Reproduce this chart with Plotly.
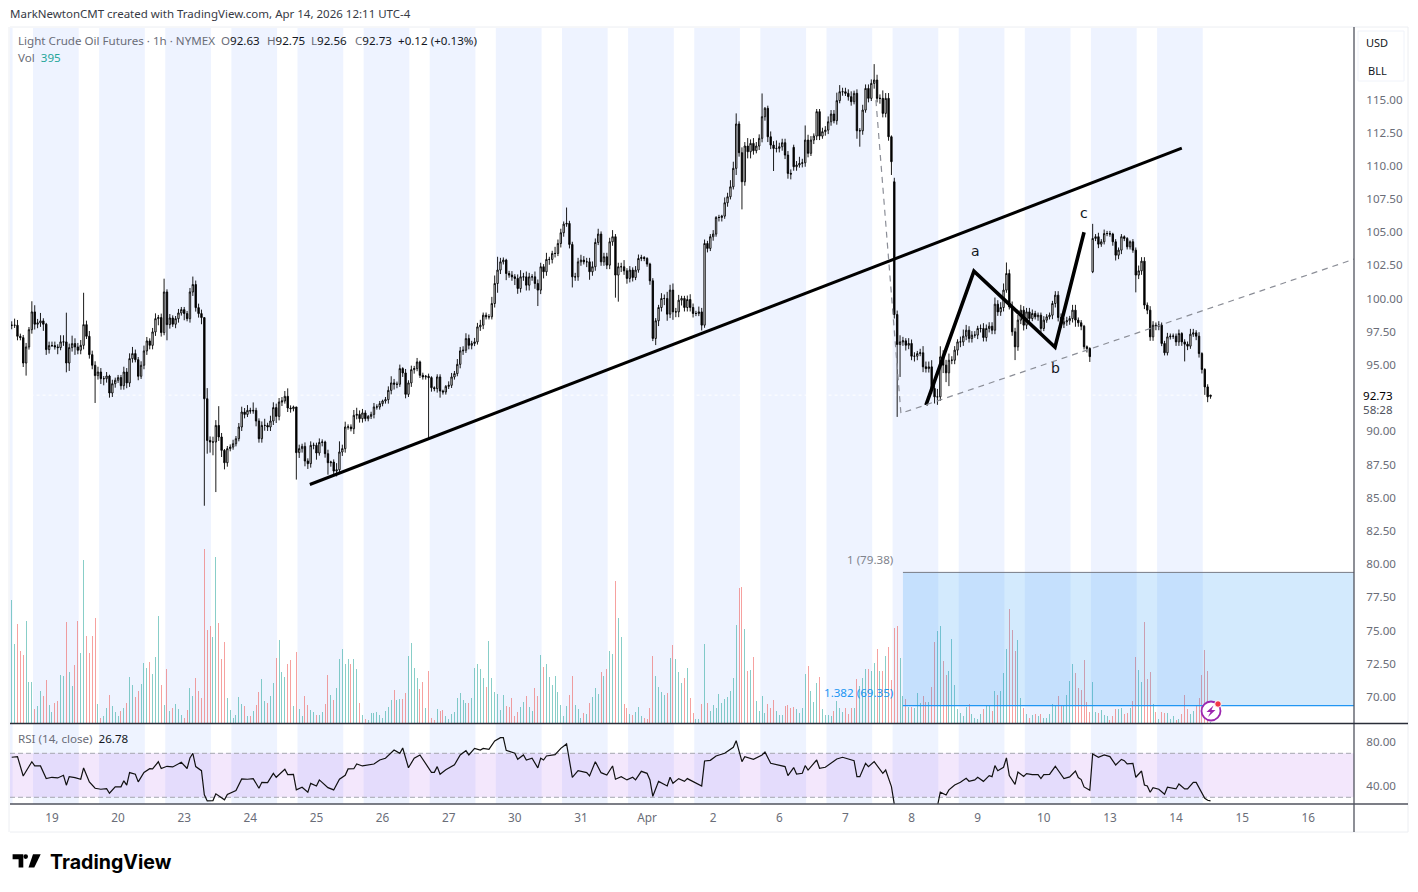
import plotly.graph_objects as go

# ---------- data ----------
session_labels = ["19","20","23","24","25","26","27","30","31","Apr","2","6","7","8","9","10","13","14","15","16"]
session_bars = [14,37,60,83,106,129,152,175,198,221,244,267,290,313,336,359,382,405,428,451]
price_ticks = [70,72.5,75,77.5,80,82.5,85,87.5,90,95,97.5,100,102.5,105,107.5,110,112.5,115]
rsi_ticks = [40,80]

closes = [
97.99,97.99,97.16,97.06,95.15,96.36,97.66,99.0,98.07,98.17,
98.32,98.07,96.16,96.46,96.46,96.36,96.31,96.74,96.74,95.15,
96.31,96.61,96.36,96.11,96.48,98.04,97.16,95.78,94.98,94.2,
94.47,93.97,93.97,94.17,92.89,93.59,93.85,94.05,93.44,94.47,
93.65,95.48,95.86,95.4,94.15,94.98,96.06,96.81,96.48,97.49,
98.49,98.57,97.44,100.5,98.04,98.54,98.07,98.49,98.92,99.17,
98.87,98.49,100.5,101.06,99.32,98.87,98.57,92.46,89.32,89.2,
89.2,90.45,89.58,88.57,87.64,88.7,88.82,89.07,89.45,90.33,
91.46,91.28,91.58,91.53,91.58,90.78,89.45,90.45,90.45,90.33,
90.78,91.79,91.13,92.21,92.29,92.64,91.76,91.71,91.84,88.4,
88.7,88.87,87.77,87.57,88.95,88.95,88.37,89.17,89.2,88.32,
87.64,87.69,87.01,87.11,88.45,88.7,90.33,90.33,90.2,91.21,
91.28,90.96,91.39,90.96,91.13,91.28,91.84,91.84,92.09,92.29,
92.39,93.09,93.65,93.55,93.55,94.73,94.4,92.79,93.65,94.65,
94.73,95.23,94.22,94.1,94.15,94.05,93.29,93.22,94.1,93.04,
92.97,93.39,93.47,94.1,94.35,95.05,96.06,96.11,96.99,96.48,
96.62,96.74,97.87,98.0,98.75,98.63,98.63,99.63,101.14,102.15,
102.77,102.9,101.89,101.77,101.64,101.52,100.76,101.64,101.64,101.01,
101.64,101.64,101.14,100.64,102.4,102.02,102.95,102.95,103.4,103.4,
104.15,104.96,105.61,105.66,104.08,101.64,101.64,102.77,102.9,102.77,
102.77,102.02,102.4,104.23,104.86,102.77,103.15,102.52,104.28,104.66,
101.77,102.4,102.4,102.09,101.52,102.15,101.59,102.15,103.02,103.1,
103.02,102.6,101.34,97.0,98.33,99.33,100.01,100.01,98.83,100.64,
99.0,99.0,99.88,100.01,99.33,99.93,99.33,98.88,98.88,99.0,
98.0,104.15,103.78,104.66,104.86,106.11,106.11,106.21,107.22,107.67,
108.42,109.81,113.15,110.99,108.8,111.49,111.06,111.69,111.14,111.49,
112.07,113.7,114.33,112.19,111.56,111.31,111.31,111.44,111.74,110.81,
109.43,109.38,109.93,110.06,110.18,110.23,111.94,110.94,111.94,112.24,
114.08,112.24,112.57,112.69,113.32,113.9,113.4,114.91,115.58,115.58,
115.46,115.21,114.83,115.46,112.64,112.64,114.2,115.83,115.08,116.21,
116.46,115.08,115.08,113.95,115.08,112.19,110.31,98.8,96.54,96.74,
96.82,96.49,96.62,95.66,95.66,95.86,95.92,94.86,94.73,94.86,
93.23,92.6,92.6,95.61,94.99,94.41,95.36,95.36,96.12,96.74,
96.74,97.17,97.62,96.99,97.25,97.25,97.75,97.75,97.07,97.75,
97.92,97.62,99.58,99.0,99.33,100.64,101.89,99.38,97.5,96.37,
98.38,99.13,98.0,99.0,98.5,98.88,98.63,98.75,97.75,98.38,
98.63,98.75,99.63,100.26,98.58,98.08,98.25,98.33,98.5,99.13,
98.38,98.18,97.92,96.37,96.24,95.63,104.53,104.66,104.1,104.28,
104.9,104.9,104.86,104.28,103.27,103.65,104.66,104.53,103.9,104.28,
103.65,101.77,102.09,102.82,99.51,99.13,97.12,98.0,97.92,98.0,
96.62,95.92,97.12,97.17,97.17,96.74,97.37,96.74,96.57,96.42,
97.32,97.42,97.17,95.86,94.66,93.35,92.6,92.73]

# opens that differ from the previous close (session gaps)
gap_bars = [272,307,376,417]
gap_opens = [111.39,108.8,102.02,92.63]

upper_wicks = [
.3,.5,.4,.2,.2,.3,.2,.8,.5,.3, .6,.2,.1,.3,.3,.3,.2,.5,.5,2.2,
.3,.6,.4,.3,.4,2.4,.3,.4,.3,.3, .4,.3,.2,.3,.1,.3,.2,.2,.2,.4,
.3,.4,.5,.3,.2,.3,.4,.3,.2,.3, .4,.2,.3,1.0,.2,.3,.2,.2,.3,.2,
.2,.2,.3,.6,.3,.3,.3,.0,.8,.3, .4,.4,1.45,.3,.1,.2,.2,.3,.2,.3,
.4,.3,.4,.2,.6,.2,.2,.3,.5,.2, .4,.4,.3,.3,.3,.4,.6,.2,.1,.0,
.3,.2,.3,.2,.3,.2,.2,.3,.2,.1, .3,.1,.2,.5,.8,.3,.4,.2,.2,.4,
.5,.3,.3,.2,.1,.2,.3,.2,.2,.1, .2,.3,.5,.3,.2,.3,.1,.3,.2,.3,
.2,.3,.1,.2,.1,.2,.1,.1,.2,.2, .1,.1,.3,.3,.2,.4,.3,.3,.4,.3,
.2,.3,.3,.4,.2,.2,.2,.5,.6,1.0, .3,.2,.1,.2,.3,.2,.3,.5,.3,.4,
.3,.2,.4,.3,.3,.2,.5,.2,.2,.5, .3,.3,.2,1.2,.2,.2,.3,.3,.4,.3,
.3,.3,.4,.3,.4,.2,.3,.3,.3,.5, .2,.3,.3,.5,.2,.3,.2,.3,.3,.2,
.1,.1,.1,.2,.2,.2,.4,.3,.5,.4, .5,.3,.4,.2,.2,.3,.4,.3,.2,.4,
.3,.3,.2,.2,.3,.1,.2,.1,.4,.3, .5,.5,.8,.2,.4,.3,.6,.3,.4,.3,
.3,1.75,.1,.2,.4,.3,.6,.3,.3,.3, .3,.3,.2,.3,.5,.3,1.1,.4,.3,.2,
.2,.2,.3,.3,.4,.3,.3,.6,.5,.3, .3,.3,.4,.2,.3,.2,.4,.3,.3,.3,
1.2,.4,.3,.6,.4,.4,.1,.3,.3,.5, .3,.2,.4,.3,.3,.2,.3,.5,.4,.4,
.5,.4,.6,.8,.5,.4,.5,.3,.3,.2, .4,.5,.4,.3,.3,.3,.2,.3,.4,.3,
.3,.3,.5,.3,.4,.5,.83,.3,.4,.3, .4,.4,.3,.3,.3,.3,.2,.2,.2,.3,
.2,.2,.2,.3,.3,.3,.3,.3,.2,.4, .4,.2,.2,.1,.1,.1,1.1,.2,.3,.2,
.3,.2,.2,.1,.2,.2,.2,.1,.1,.1, .2,.2,.4,.3,.3,.2,.3,.3,.2,.3,
.2,.2,.3,.2,.2,.2,.3,.1,.2,.2, .4,.3,.2,.3,.1,.1,.2,.02]

lower_wicks = [
.3,.2,.3,.2,.3,.95,.2,.3,.4,.3, .3,.5,.4,.3,.1,.2,.5,.2,.3,.7,
.6,.3,.6,.3,.3,.3,.2,.3,.3,2.06, .3,.4,.5,.3,.35,.3,.3,.2,.3,.3,
.4,.3,.3,.2,.3,.2,.3,.3,.3,.3, .3,.5,.3,.2,1.18,.3,.2,.3,.3,.2,
.5,.2,.3,.3,.3,.3,.5,8.06,1.0,.8, 1.0,3.77,.3,.5,.5,.3,.2,.2,.2,.2,
.3,.3,.2,.2,.2,.4,.3,.3,.4,.3, .3,.3,.5,.3,.3,.2,.3,.3,.2,2.03,
.4,.3,.4,.4,.3,.3,.5,.2,.3,.3, .9,.3,.3,.4,.3,.3,.3,.2,.2,.4,
.3,.3,.3,.2,.2,.2,.3,.2,.2,.2, .2,.3,.3,.4,.3,.2,.3,.3,.2,.3,
.3,.2,.2,.2,.2,4.6,.3,.2,.3,.5, .2,.2,.2,.2,.2,.2,.3,.3,.2,.3,
.3,.2,.2,.3,.3,.2,.2,.2,.3,.7, .3,.2,.5,.2,.3,.5,.4,.3,.3,.4,
.4,.3,.4,1.2,.3,.5,.3,.4,.3,.3, .2,.3,.3,.2,.3,.8,.3,.3,.3,.2,
.4,.6,.3,.3,.2,.3,.3,.3,.3,.3, 1.7,2.0,.4,.3,.4,.3,.3,.2,.2,.2,
.2,.2,.3,.2,.5,.4,.3,.5,.5,.3, .6,.4,.4,.4,.3,.3,.3,.3,.2,.2,
.4,.2,.3,.2,.3,.2,.3,.3,.2,.3, .2,.2,.5,.3,2.08,.3,.5,.5,.3,.2,
.3,.3,.3,.4,.3,1.7,.3,.3,.3,.3, .4,.4,.3,.3,.2,.3,.3,.3,.2,.3,
.3,.3,.2,.3,.3,.3,.2,.3,.2,.3, .2,.3,.3,.2,.6,1.2,.3,.2,.3,.2,
.4,.3,.4,.3,.3,.3,1.0,.3,5.45,2.44, .3,.4,.3,.3,.4,.3,.2,.4,.3,.3,
.4,.5,.6,.3,.6,.7,1.0,.3,.3,.4, .4,.3,.3,.3,.3,.2,.3,.3,.3,.3,
.3,.3,.3,.3,.3,.3,.2,.2,.3,1.0, .3,.3,.4,.3,.3,.2,.2,.3,.3,.2,
.2,.2,.3,.3,.3,.3,.3,.3,.3,.3, .5,.3,.3,.2,.3,.4,.1,.2,.3,.2,
.2,.2,.2,.3,.4,.3,.3,.2,.2,.2, .2,1.3,.3,.3,.3,.3,.3,.3,.3,.3,
.2,.2,.2,.2,.2,.3,.3,.3,1.3,.3, .2,.2,.3,.3,.3,.6,.4,.17]

volumes = [
369,239,299,216,204,306,123,123,42,51, 96,81,129,54,33,60,66,144,141,303,
153,111,174,306,210,489,261,210,261,315, 57,18,21,45,84,51,33,21,36,45,
60,138,114,78,96,117,180,165,183,147, 198,321,114,54,162,36,45,57,42,24,
18,39,105,81,135,96,75,522,279,291, 258,498,300,192,243,75,39,18,24,78,
57,51,21,21,36,54,93,132,66,60, 81,120,195,249,153,138,177,189,51,213,
42,21,81,54,39,33,24,24,33,57, 144,84,69,105,192,222,177,192,177,192,
162,60,24,15,12,30,30,33,24,18, 36,48,69,99,69,72,72,90,201,240,
165,135,102,123,45,156,18,12,42,36, 39,21,15,27,33,75,90,69,60,60,
75,165,177,
162,135,108,246,135,93,89,39,84,51,
48,75,21,33,48,63,81,48,36,105,
81,204,168,177,138,114,141,93,54,21,
51,84,141,54,42,18,30,27,60,78,
105,87,153,141,162,216,207,426,315,258,
57,45,27,24,33,48,21,18,15,45,
201,141,108,93,84,90,195,234,192,153,
120,135,165,75,30,15,15,57,237,60,
36,54,45,87,60,72,78,96,135,294,
405,408,282,156,159,198,66,36,81,30,
57,45,69,36,24,24,51,54,45,48,
42,30,45,147,171,96,63,120,138,42,
24,24,21,36,66,45,33,45,27,45,
45,132,111,135,162,162,156,180,222,156,
156,201,228,129,285,291,195,81,72,48,
48,45,90,60,81,63,63,108,243,276,
291,186,144,156,
252,114,42,30,21,48,57,27,18,15,
27,42,51,51,36,96,84,96,150,222,
342,279,216,249,75,45,27,18,24,27,
21,27,18,18,27,57,51,81,51,51,
84,126,177,150,105,99,189,63,33,123,
33,30,39,24,21,12,21,42,42,45,
27,30,45,66,198,159,123,303,132,153,
57,33,15,33,30,30,15,21,12,15,
27,84,42,27,36,51,75,144,219,156,
4]

rsi_bars = [0,2,4,6,7,8,10,12,14,16,18,19,20,22,24,25,27,29,31,33,34,36,38,39,40,41,43,44,46,48,49,51,52,54,56,59,61,62,63,64,66,67,68,70,71,74,75,78,80,82,84,86,87,89,91,92,95,96,98,99,101,103,104,106,107,110,112,114,116,117,119,120,122,126,128,130,133,135,136,138,140,142,144,146,147,148,149,151,154,156,158,159,161,163,
164,166,168,170,171,172,175,176,178,179,181,183,184,185,186,189,191,193,195,197,200,201,203,205,207,209,210,212,214,216,217,219,221,222,223,225,228,229,230,232,234,235,240,241,243,245,248,251,252,254,255,258,261,262,264,269,270,272,273,275,276,277,280,281,283,287,289,293,294,295,297,298,300,302,303,304,306,307,308,321,322,323,
325,326,328,330,332,333,335,336,338,340,341,342,343,345,346,347,349,350,352,353,355,357,358,359,361,363,365,366,368,370,371,372,373,375,376,378,380,382,384,386,387,388,390,391,393,394,395,396,397,399,401,402,405,406,408,409,411,412,415,416,417]
rsi_values = [66.4,67.0,49.4,58,62.3,58.5,58.5,47,48.2,47.6,50,41,48.8,47.9,46.4,56.7,44,38.2,37.3,37.9,33.7,39.5,39.5,45,41,52.5,51,44,52.5,56,55.8,62.3,56.2,58.2,57.6,61.8,56.2,65.8,70,57.9,54.2,32.2,26.7,27,33.1,27.7,32.6,36.2,46.7,46.4,47,38.2,43.6,43.3,51.8,48.2,55.5,50.6,50.9,36.7,39.1,34.6,42.7,40.3,45.8,38.8,36.7,46.4,50,55.8,56,60.3,58.5,60.3,63.9,65.5,73,70,74.8,56.9,65.5,68.5,60.3,52.7,52.7,57.9,51,55,59.5,68.5,72.4,68.5,74.5,73,
74.4,73.6,81.2,84.2,84.2,72.7,70,64.5,68.5,63.9,65.5,56.7,65.5,63.9,67.6,68.8,74.5,78.5,48.2,54.2,52.4,49.4,62.4,52.4,50.3,58.5,46.4,48.8,45.8,48.2,45.8,53.6,51.8,45.8,30.9,44.5,40.3,48.2,42.7,47,44.5,47,40.3,63,63.6,67.6,70,75.5,81.5,62.4,67,64.5,68.5,71.2,60.9,57.9,49.7,57,51.2,51.8,58.8,54.8,63.9,56.4,57.3,64.8,66.4,63.3,48.8,48.8,60.9,57.9,62.4,54.8,51.8,54.8,39.7,23.6,15,15,22,34.6,
32.1,36.7,41.2,43.6,47.3,44.6,45.8,48.2,44.5,49.7,48.8,58.8,54.2,57.3,65.8,49.7,41.8,53,49,51.5,50.6,50.6,47,50.6,50.9,58.2,50,47,48.5,53.9,47.9,46.1,39.4,36.4,69.4,66.4,68.5,67,59.4,64.5,63.3,60.3,60.9,48.2,53.9,41.2,40.3,34.6,38.8,37.3,32.8,39.1,37.6,42.1,37.6,37.6,43.6,43.6,29.1,27.3,26.78]

trend_bars = [103.7,407]
trend_prices = [86.0,111.33]
abc_bars = [318,334.7,362.9,373]
abc_prices = [91.97,102.07,96.34,105.0]
fib_bars = [300.6,309.3,466.9]
fib_prices = [114.95,91.36,102.97]
box_bars = [310,466.9]
box_prices = [69.35,79.38]
last_price = 92.73

# ---------- pixel geometry of the panes ----------
W, H = 1418, 892
LEFT, AXIS, RIGHT = 10, 1354, 1408
TOP, VOL_BOTTOM, RSI_BOTTOM, FRAME_BOTTOM = 28, 723.5, 804, 832
def px(x): return x / W
def py(y): return 1 - y / H
X_RANGE = [-0.6, 466.9]

n = len(closes)
bars = list(range(n))
opens = [closes[0]] + closes[:-1]
for b, o in zip(gap_bars, gap_opens):
    opens[b] = o
highs = [max(o, c) + u for o, c, u in zip(opens, closes, upper_wicks)]
lows = [min(o, c) - l for o, c, l in zip(opens, closes, lower_wicks)]
vol_colors = ["rgba(38,166,154,0.55)" if c >= o else "rgba(239,83,80,0.55)" for o, c in zip(opens, closes)]

fig = go.Figure()
fig.add_bar(x=bars, y=volumes, width=0.36, marker=dict(color=vol_colors, line_width=0), yaxis="y", xaxis="x", hoverinfo="skip")
fig.add_candlestick(x=bars, open=opens, high=highs, low=lows, close=closes, yaxis="y2", xaxis="x",
    whiskerwidth=0,
    increasing=dict(fillcolor="#ffffff", line=dict(color="#000000", width=0.9)),
    decreasing=dict(fillcolor="#000000", line=dict(color="#000000", width=0.9)))
fig.add_scatter(x=rsi_bars, y=rsi_values, mode="lines", line=dict(color="#111111", width=1.2), yaxis="y3", xaxis="x", hoverinfo="skip")
fig.add_scatter(x=trend_bars, y=trend_prices, mode="lines", line=dict(color="#000000", width=3), yaxis="y2", xaxis="x", hoverinfo="skip")
fig.add_scatter(x=abc_bars, y=abc_prices, mode="lines", line=dict(color="#000000", width=3.6), yaxis="y2", xaxis="x", hoverinfo="skip")
fig.add_scatter(x=fib_bars, y=fib_prices, mode="lines", line=dict(color="#8b8e97", width=1.2, dash="6px,5px"), yaxis="y2", xaxis="x", hoverinfo="skip")

shapes = []
# session shading
for k in range(18):
    shapes.append(dict(type="rect", xref="x", yref="paper", x0=7.4 + 23 * k, x1=23.3 + 23 * k, y0=py(RSI_BOTTOM), y1=py(TOP),
                       fillcolor="rgba(41,98,255,0.08)", line_width=0, layer="below"))
shapes.append(dict(type="rect", xref="x", yref="paper", x0=-0.6, x1=0.3, y0=py(RSI_BOTTOM), y1=py(TOP),
                   fillcolor="rgba(41,98,255,0.08)", line_width=0, layer="below"))
# RSI band
shapes.append(dict(type="rect", xref="x", yref="y3", x0=X_RANGE[0], x1=X_RANGE[1], y0=30, y1=70,
                   fillcolor="rgba(155,60,230,0.12)", line_width=0, layer="below"))
for lvl in (30, 70):
    shapes.append(dict(type="line", xref="x", yref="y3", x0=X_RANGE[0], x1=X_RANGE[1], y0=lvl, y1=lvl,
                       line=dict(color="#a5a7b0", width=1, dash="5px,3px"), layer="below"))
# last-price line
shapes.append(dict(type="line", xref="x", yref="y2", x0=0.3, x1=X_RANGE[1], y0=last_price, y1=last_price,
                   line=dict(color="#ffffff", width=1, dash="dot"), layer="below"))
# fib box
shapes.append(dict(type="rect", xref="x", yref="y2", x0=box_bars[0], x1=box_bars[1], y0=box_prices[0], y1=box_prices[1],
                   fillcolor="rgba(33,150,243,0.2)", line_width=0, layer="above"))
shapes.append(dict(type="line", xref="x", yref="y2", x0=box_bars[0], x1=box_bars[1], y0=box_prices[1], y1=box_prices[1],
                   line=dict(color="#787b86", width=1), layer="above"))
shapes.append(dict(type="line", xref="x", yref="y2", x0=box_bars[0], x1=box_bars[1], y0=box_prices[0], y1=box_prices[0],
                   line=dict(color="#2196f3", width=1.2), layer="above"))
# frame and separators
def pline(x0, y0, x1, y1, color, width):
    shapes.append(dict(type="line", xref="paper", yref="paper", x0=px(x0), x1=px(x1), y0=py(y0), y1=py(y1),
                       line=dict(color=color, width=width), layer="above"))
pline(LEFT, TOP - 1, RIGHT, TOP - 1, "#eceef2", 1)
pline(LEFT, FRAME_BOTTOM, RIGHT, FRAME_BOTTOM, "#eceef2", 1)
pline(LEFT - 1, TOP - 1, LEFT - 1, FRAME_BOTTOM, "#eceef2", 1)
pline(RIGHT, TOP - 1, RIGHT, FRAME_BOTTOM, "#eceef2", 1)
pline(AXIS, TOP - 1, AXIS, FRAME_BOTTOM, "#50535e", 1.3)
pline(LEFT, VOL_BOTTOM, RIGHT, VOL_BOTTOM, "#2a2e39", 1.3)
pline(LEFT, RSI_BOTTOM, RIGHT, RSI_BOTTOM, "#50535e", 1.3)
# USD/BLL box
def ppath(points, **kw):
    d = "M" + " L".join(f"{px(a):.5f},{py(b):.5f}" for a, b in points) + " Z"
    shapes.append(dict(type="path", xref="paper", yref="paper", path=d, layer="above", **kw))
shapes.append(dict(type="rect", xref="paper", yref="paper", x0=px(1358), x1=px(1404), y0=py(81), y1=py(31),
                   line=dict(color="#f0f3fa", width=1), fillcolor="rgba(255,255,255,0)", layer="above"))
# TradingView logo
ppath([(12.6,854.3),(23.3,854.3),(23.3,867.5),(18.6,867.5),(18.6,859.2),(12.6,859.2)], fillcolor="#000000", line_width=0)
shapes.append(dict(type="circle", xref="paper", yref="paper", x0=px(23.4), x1=px(28.0), y0=py(858.9), y1=py(854.3),
                   fillcolor="#000000", line_width=0, layer="above"))
ppath([(33,854.3),(40.7,854.3),(34.3,867.5),(28.5,867.5)], fillcolor="#000000", line_width=0)
# lightning badge
shapes.append(dict(type="circle", xref="paper", yref="paper", x0=px(1201.5), x1=px(1220.5), y0=py(720.5), y1=py(701.5),
                   fillcolor="#ffffff", line=dict(color="#9c27b0", width=1.8), layer="above"))
ppath([(1213.5,705.5),(1206.5,712),(1210.5,712),(1208,717),(1215.5,710),(1211.5,710)], fillcolor="#9c27b0", line_width=0)
shapes.append(dict(type="circle", xref="paper", yref="paper", x0=px(1214.7), x1=px(1221.3), y0=py(707.3), y1=py(700.7),
                   fillcolor="#f23645", line=dict(color="#ffffff", width=1), layer="above"))

FONT = "Noto Sans"
GRAY, DARK = "#6a6d78", "#131722"
ann = []
def text(x, y, s, size=11.5, color=DARK, anchor="left", family=FONT):
    dx = {"left": -2, "right": 1, "center": 0}[anchor]
    ann.append(dict(xref="paper", yref="paper", x=px(x + dx), y=py(y - 1), text=s, showarrow=False, xanchor=anchor, yanchor="middle",
                    font=dict(size=size, color=color, family=family)))
text(10, 14.5, "MarkNewtonCMT created with TradingView.com, Apr 14, 2026 12:11 UTC-4", 11.5, "#363a45")
text(18, 42, f"<span style='color:{GRAY}'>Light Crude Oil Futures · 1h · NYMEX</span>", 11.6)
for x, label, value in [(221, "O", "92.63"), (267, "H", "92.75"), (311, "L", "92.56"), (355, "C", "92.73")]:
    text(x, 42, f"<span style='color:{GRAY}'>{label}</span>{value}", 11.6)
text(398, 42, "+0.12 (+0.13%)", 11.6)
text(18, 59, f"<span style='color:{GRAY}'>Vol</span>  <span style='color:#26a69a'>395</span>", 11.6)
text(18, 739, f"<span style='color:{GRAY}'>RSI (14, close)</span>  26.78", 11.6)
text(895, 560, "1 (79.38)", 11.6, "#80838d", "right")
text(895, 693, "1.382 (69.35)", 11.6, "#2196f3", "right")
text(975.5, 252, "a", 14, "#131722", "center", "DejaVu Sans")
text(1055, 369, "b", 14, "#131722", "center", "DejaVu Sans")
text(1084, 214, "c", 14, "#131722", "center", "DejaVu Sans")
text(1378, 396, "92.73", 11.6, "#000000", "center")
text(1378, 410, "58:28", 11.6, "#50535e", "center")
text(1377, 44, "USD", 11, "#131722", "center")
text(1377, 71, "BLL", 11, "#131722", "center")
text(50, 863, "<b>TradingView</b>", 19.6, "#000000", "left", "Inter")

def price_axis_settings():
    return dict(tickfont=dict(size=11.6, color=GRAY, family=FONT), tickformat=".2f", ticks="outside", ticklen=9,
                tickcolor="rgba(0,0,0,0)", showgrid=False, zeroline=False, showline=False)

fig.update_layout(
    width=W, height=H, autosize=False, margin=dict(l=0, r=0, t=0, b=0), showlegend=False,
    paper_bgcolor="#ffffff", plot_bgcolor="rgba(0,0,0,0)", bargap=0, shapes=shapes, annotations=ann,
    xaxis=dict(domain=[px(LEFT), px(AXIS)], range=X_RANGE, anchor="y3", tickmode="array", tickvals=session_bars,
               ticktext=session_labels, tickfont=dict(size=11.8, color=GRAY, family=FONT), ticks="outside", ticklen=3,
               tickcolor="rgba(0,0,0,0)", showgrid=False, zeroline=False, showline=False, rangeslider=dict(visible=False)),
    yaxis=dict(domain=[py(VOL_BOTTOM), py(TOP)], range=[0, 2085], visible=False, fixedrange=True),
    yaxis2=dict(domain=[py(VOL_BOTTOM), py(TOP)], overlaying="y", anchor="x", side="right",
                range=[68.0, 120.38], tickmode="array", tickvals=price_ticks, **price_axis_settings()),
    yaxis3=dict(domain=[py(RSI_BOTTOM), py(VOL_BOTTOM)], anchor="x", side="right", range=[23.9, 97.1],
                tickmode="array", tickvals=rsi_ticks, **price_axis_settings()),
)
fig.write_html("out.html", config=dict(displayModeBar=False),
               post_script="document.body.style.margin='0';document.body.style.overflow='hidden';")
